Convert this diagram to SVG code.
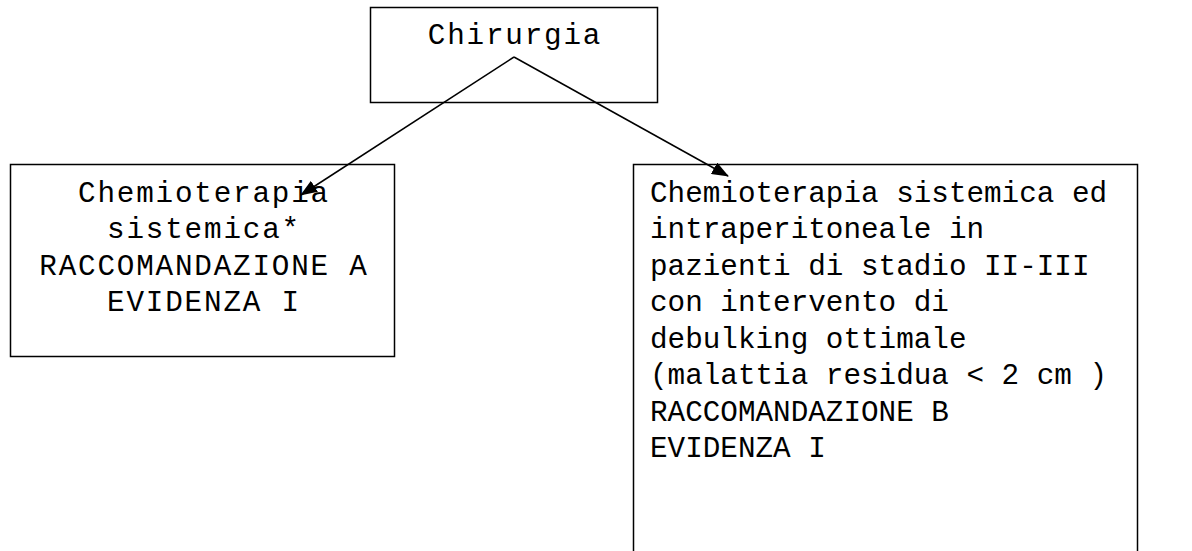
<svg xmlns="http://www.w3.org/2000/svg" width="1192" height="551" viewBox="0 0 1192 551">
<style>
.box{fill:#fff;stroke:#000;stroke-width:1.5}
.t{font-family:"Liberation Mono","Courier New",monospace;font-size:29.3px;fill:#000}
.w{letter-spacing:1.8px}
.c{text-anchor:middle}
.conn{stroke:#000;stroke-width:1.5;fill:none}
</style>
<defs>
<marker id="ah" markerWidth="17" markerHeight="13" refX="16" refY="6.5" orient="auto" markerUnits="userSpaceOnUse">
<path d="M0,0 L17,6.5 L0,13 Z" fill="#000"/>
</marker>
</defs>
<g id="node-chirurgia">
<rect class="box" x="370.5" y="7.5" width="287" height="95"/>
<text class="t w c" x="515" y="44">Chirurgia</text>
</g>
<g id="node-left">
<rect class="box" x="10.5" y="164.5" width="384" height="192"/>
<text class="t w c" x="204" y="201.5">Chemioterapia</text>
<text class="t w c" x="204" y="238">sistemica*</text>
<text class="t w c" x="204" y="274.5">RACCOMANDAZIONE A</text>
<text class="t w c" x="204" y="311">EVIDENZA I</text>
</g>
<g id="node-right">
<rect class="box" x="633.5" y="164.5" width="504" height="400"/>
<text class="t" x="650" y="201.5">Chemioterapia sistemica ed</text>
<text class="t" x="650" y="238">intraperitoneale in</text>
<text class="t" x="650" y="274.5">pazienti di stadio II-III</text>
<text class="t" x="650" y="311">con intervento di</text>
<text class="t" x="650" y="347.5">debulking ottimale</text>
<text class="t" x="650" y="384">(malattia residua &lt; 2 cm )</text>
<text class="t" x="650" y="420.5">RACCOMANDAZIONE B</text>
<text class="t" x="650" y="457">EVIDENZA I</text>
</g>
<g id="connectors">
<line class="conn" x1="514" y1="57" x2="301" y2="195" marker-end="url(#ah)"/>
<line class="conn" x1="514" y1="57" x2="728" y2="176" marker-end="url(#ah)"/>
</g>
</svg>
